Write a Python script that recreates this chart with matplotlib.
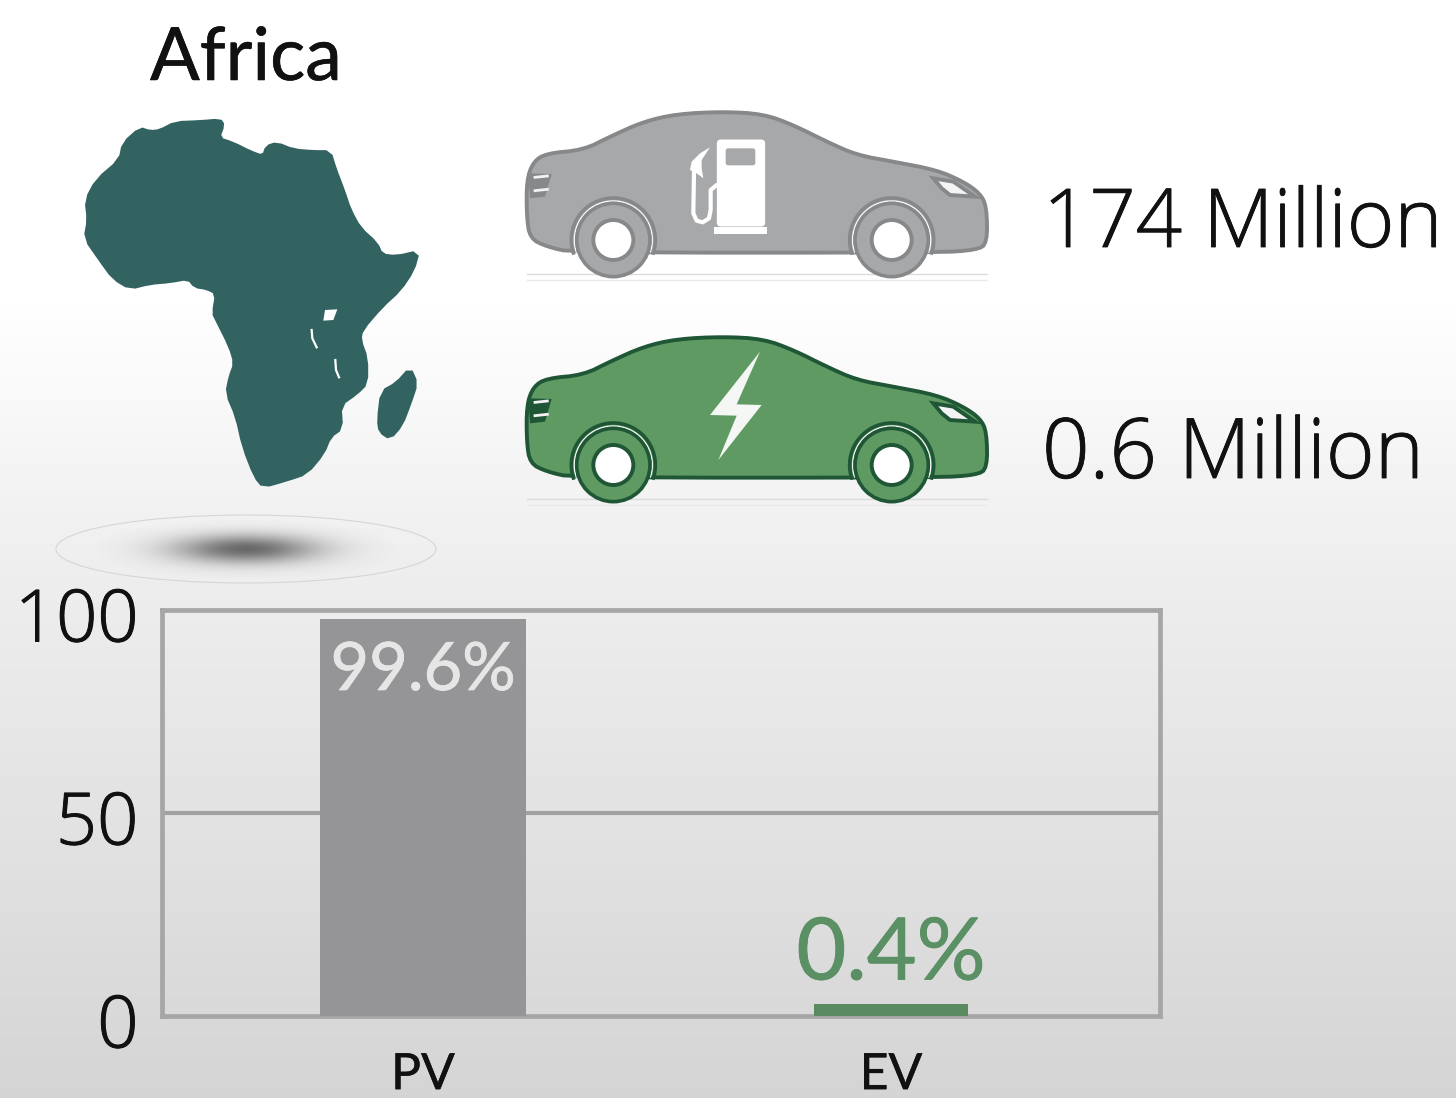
import numpy as np
import matplotlib
matplotlib.use('Agg')
import matplotlib.pyplot as plt
import matplotlib.patheffects as pe
from matplotlib.patches import Polygon, Circle, Ellipse, FancyBboxPatch, Rectangle
from matplotlib.transforms import ScaledTranslation

# bar chart values
categories = ['PV', 'EV']
bar_heights = [97.8, 3.0]
bar_widths = [0.44, 0.33]
bar_colors = ['#959597', '#5a8a60']
bar_labels = ['99.6%', '0.4%']
label_colors = ['#e6e6e6', '#5a9064']
label_y = [80.3, 9.0]
y_ticks = [0, 50, 100]
car_counts = ['174 Million', '0.6 Million']

W, H = 1456, 1098

# outlines, in 3x crop coordinates
africa = [(240,85),(270,95),(300,92),(345,68),(420,65),(480,60),(490,75),(475,115),(520,130),(570,155),
          (610,170),(620,140),(650,130),(700,150),(760,155),(810,155),(825,205),(850,270),(870,330),(900,385),
          (950,430),(965,465),(1010,470),(1075,455),(1060,510),(1020,570),(965,620),(905,690),(900,720),(920,775),
          (920,850),(890,880),(840,915),(845,985),(810,1010),(790,1060),(740,1120),(680,1140),(610,1160),(585,1130),
          (550,1040),(530,950),(500,880),(510,830),(525,790),(510,740),(470,660),(460,640),(470,580),(440,565),
          (405,560),(385,535),(330,545),(270,550),(210,565),(160,535),(120,480),(75,415),(85,360),(78,300),
          (110,240),(180,180),(190,130)]
madagascar = [(1050,805),(1070,850),(1050,910),(1025,975),(990,1015),(960,995),(955,960),(965,875),(1010,850)]
lake = [(795,630),(832,628),(820,660),(790,662)]
body = [(50,240),(70,185),(110,160),(220,150),(300,110),(400,65),(500,42),(640,35),(760,42),(850,75),
        (950,125),(1040,165),(1150,185),(1280,210),(1360,245),(1410,280),(1430,320),(1432,430),(1400,450),(1280,458),
        (190,458),(110,440),(60,415),(50,350)]
headlight = [(1270,235),(1330,245),(1395,290),(1320,285),(1295,265)]
bolt = [(750,80),(600,270),(680,272),(625,405),(755,240),(680,238)]
nozzle = [(600,142),(570,160),(545,185),(540,210),(560,220),(580,235),(575,205),(575,180)]


def crop_pts(pts, x0, y0):
    return [(x0 + x / 3, y0 + y / 3) for x, y in pts]


def smooth(pts, n=2):
    # corner cutting so the outlines are not so angular
    p = np.array(pts, dtype=float)
    for _ in range(n):
        q = np.roll(p, -1, axis=0)
        p = np.column_stack([0.75 * p + 0.25 * q, 0.25 * p + 0.75 * q]).reshape(-1, 2)
    return p


def thicker(color, w=0.7):
    return [pe.withStroke(linewidth=w, foreground=color)]


fig = plt.figure(figsize=(W / 100, H / 100), dpi=100)

bg = fig.add_axes([0, 0, 1, 1])
bg.set_xlim(0, W)
bg.set_ylim(H, 0)
bg.axis('off')

# page background
rows = np.interp(np.arange(H), [0, 290, 400, 560, 800, 1098], [255, 255, 248, 238, 227, 212])
bg.imshow(np.repeat(rows[:, None], 2, axis=1), cmap='gray', vmin=0, vmax=255,
          extent=[0, W, H, 0], aspect='auto', zorder=0)

# map
map_color = '#336361'
bg.add_patch(Polygon(smooth(crop_pts(africa, 60, 100), 1), fc=map_color, ec=map_color, lw=2.2, zorder=2))
bg.add_patch(Polygon(smooth(crop_pts(madagascar, 60, 100), 1), fc=map_color, ec=map_color, lw=2.2, zorder=2))
bg.add_patch(Polygon(crop_pts(lake, 60, 100), fc='white', ec='none', zorder=3))
for line in ([(755,690),(757,715),(770,742)], [(826,780),(828,810),(837,832)]):
    xy = np.array(crop_pts(line, 60, 100))
    bg.plot(xy[:, 0], xy[:, 1], color='white', lw=1.6, zorder=3)

# shadow below the map
bg.add_patch(Ellipse((246, 549), 380, 68, fc='none', ec='#d6d6d6', lw=0.8, zorder=2))
yy, xx = np.mgrid[-1:1:120j, -1:1:300j]
rgba = np.zeros((120, 300, 4))
rgba[..., :3] = 0.32
rgba[..., 3] = 0.85 * np.exp(-(xx ** 2 + yy ** 2) * 4.5) * (xx ** 2 + yy ** 2 < 1)
bg.imshow(rgba, extent=[96, 396, 579, 519], aspect='auto', zorder=3)
bg.set_xlim(0, W)
bg.set_ylim(H, 0)


def draw_car(y0, fill, edge, detail):
    bg.add_patch(Polygon(smooth(crop_pts(body, 510, y0), 2), fc=fill, ec=edge, lw=2.8, zorder=4))
    # rear light
    bg.add_patch(Polygon(crop_pts([(55,220),(125,222),(105,290),(60,295)], 510, y0), fc=edge, ec='none', zorder=5))
    for yy0 in (232, 272):
        s = np.array(crop_pts([(75, yy0), (112, yy0 - 4)], 510, y0))
        bg.plot(s[:, 0], s[:, 1], color='#f2f2f2', lw=2, zorder=6)
    bg.add_patch(Polygon(crop_pts(headlight, 510, y0), fc='#f4f4f4', ec=edge, lw=2.8, zorder=5))
    detail()
    for cx in (310, 1145):
        c = 510 + cx / 3, y0 + 420 / 3
        ang = np.linspace(np.pi * 0.9, np.pi * 2.1, 80)
        for r, col, lw in ((126, edge, 2.6), (117, 'white', 0.9)):
            bg.plot(c[0] + r / 3 * np.cos(ang), c[1] + r / 3 * np.sin(ang), color=col, lw=lw, zorder=5)
        bg.add_patch(Circle(c, 110 / 3, fc=fill, ec=edge, lw=2.6, zorder=6))
        bg.add_patch(Circle(c, 60 / 3, fc='white', ec=edge, lw=2.8, zorder=7))
    # ground
    for yy0, col in ((523, '#dcdcdc'), (540, '#ebebeb')):
        s = np.array(crop_pts([(50, yy0), (1430, yy0)], 510, y0))
        bg.plot(s[:, 0], s[:, 1], color=col, lw=1.0, zorder=3)


def pump():
    bg.add_patch(FancyBboxPatch((510 + 628 / 3, 100 + 126 / 3), 130 / 3, 246 / 3, boxstyle='round,pad=2.5,rounding_size=4',
                                fc='white', ec='none', zorder=5))
    bg.add_patch(FancyBboxPatch((510 + 650 / 3, 100 + 148 / 3), 83 / 3, 45 / 3, boxstyle='round,pad=1,rounding_size=2.5',
                                fc='#a7a8aa', ec='none', zorder=6))
    bg.add_patch(Rectangle((510 + 612 / 3, 100 + 380 / 3), 160 / 3, 23 / 3, fc='white', ec='none', zorder=5))
    bg.add_patch(Polygon(crop_pts(nozzle, 510, 100), fc='white', ec='none', zorder=5))
    hose = crop_pts([(552,215),(550,340),(560,362),(578,367),(597,355),(602,330),(602,270),(620,255)], 510, 100)
    hose = np.array(hose)
    bg.plot(hose[:, 0], hose[:, 1], color='white', lw=3, zorder=5, solid_capstyle='round')


def lightning():
    bg.add_patch(Polygon(crop_pts(bolt, 510, 325), fc='#f4f7f3', ec='none', zorder=5))


draw_car(100, '#a7a8aa', '#87888a', pump)
draw_car(325, '#5f9a63', '#1f5636', lightning)

# text beside the pictures
light_font = ['Open Sans', 'DejaVu Sans']
txt_col = '#111111'
bg.text(150, 80, 'Africa', fontsize=53, family='Lato', color=txt_col, va='baseline', zorder=8,
        path_effects=thicker(txt_col, 0.4))
bg.text(1043, 247, car_counts[0], fontsize=58.5, family=light_font, weight='light', color=txt_col, va='baseline',
        zorder=8, path_effects=thicker(txt_col, 0.6))
bg.text(1042, 478, car_counts[1], fontsize=60, family=light_font, weight='light', color=txt_col, va='baseline',
        zorder=8, path_effects=thicker(txt_col, 0.6))

# bar chart
ax = fig.add_axes([162 / W, 1 - 1016 / H, (1160 - 162) / W, (1016 - 610) / H])
ax.patch.set_alpha(0)
ax.bar(range(len(categories)), bar_heights, width=bar_widths, color=bar_colors, zorder=3)
ax.set_xlim(-0.5577, 1.5748)
ax.set_ylim(0, 100)
ax.axhline(50, color='#a2a2a2', lw=3, zorder=1)
for s in ax.spines.values():
    s.set_color('#a6a6a6')
    s.set_linewidth(3.4)
ax.set_yticks(y_ticks)
ax.set_xticks(range(len(categories)))
ax.set_xticklabels(categories)
ax.tick_params(axis='y', length=0, pad=17, labelsize=52, labelcolor=txt_col)
ax.tick_params(axis='x', length=0, pad=26, labelsize=36, labelcolor=txt_col)
for lab in ax.get_yticklabels():
    lab.set_family(light_font)
    lab.set_weight('light')
    lab.set_path_effects(thicker(txt_col, 0.7))
    lab.set_transform(lab.get_transform() + ScaledTranslation(0, -4 / 100, fig.dpi_scale_trans))
for lab in ax.get_xticklabels():
    lab.set_family('Lato')
    lab.set_path_effects(thicker(txt_col, 0.3))
for i, txt in enumerate(bar_labels):
    ax.text(i, label_y[i], txt, ha='center', va='baseline', family='Lato', color=label_colors[i],
            fontsize=48 if i == 0 else 62, zorder=5, path_effects=thicker(label_colors[i], 0.6))

fig.savefig('out.png', dpi=100)
